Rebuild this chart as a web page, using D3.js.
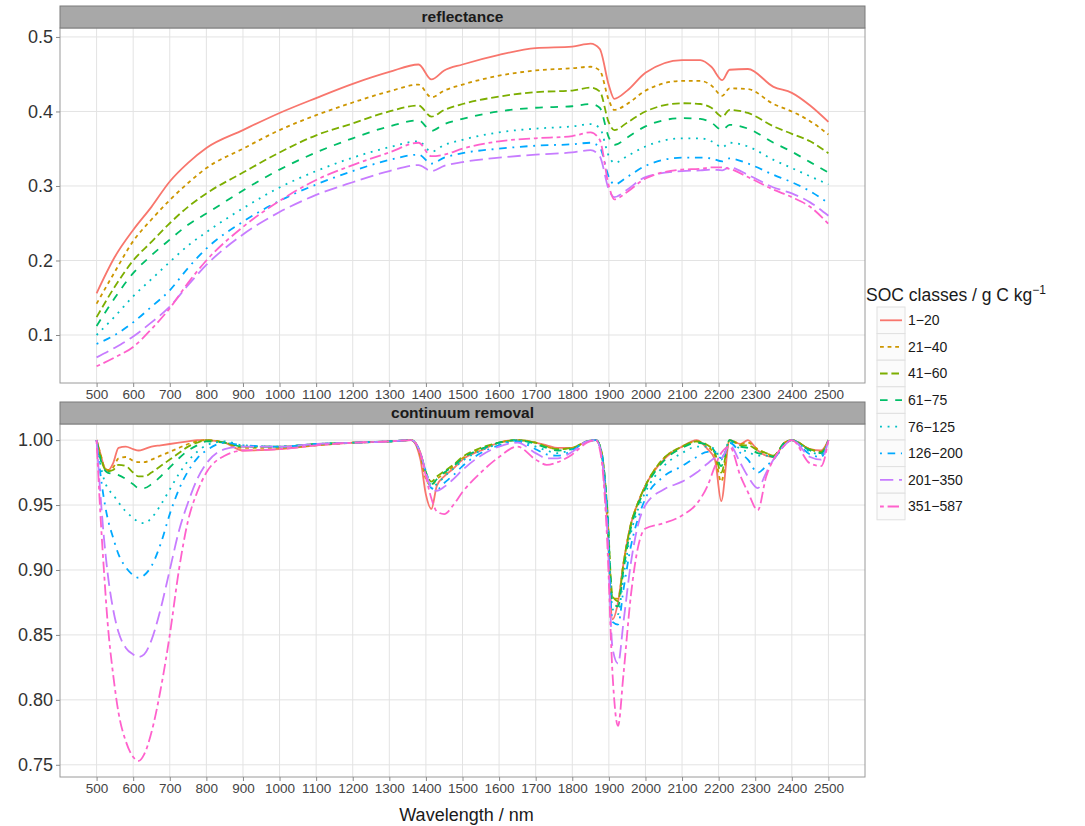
<!DOCTYPE html>
<html>
<head>
<meta charset="utf-8">
<script src="https://cdn.jsdelivr.net/npm/d3@7"></script>
<style>
  body { margin: 0; background: #fff; }
  text { font-family: "Liberation Sans", Arial, sans-serif; }
</style>
</head>
<body>
<svg id="chart"></svg>
<script>
// classes (legend order)
const classes = ['1-20', '21-40', '41-60', '61-75', '76-125', '126-200', '201-350', '351-587'];
const xTicks = d3.range(500, 2501, 100);
const reflTicks = [0.1, 0.2, 0.3, 0.4, 0.5];
const crTicks = [0.75, 0.80, 0.85, 0.90, 0.95, 1.00];

// wavelengths (nm) for the reflectance panel
const wlRefl = [500, 550, 600, 650, 700, 750, 800, 900, 1000, 1100, 1200, 1300, 1380, 1415, 1450, 1500, 1600, 1700, 1800, 1850, 1875, 1900, 1915, 1950, 2000, 2100, 2150, 2180, 2210, 2230, 2280, 2350, 2400, 2450, 2500];
const refl_1_20   = [.156, .205, .241, .272, .306, .331, .351, .375, .398, .418, .437, .453, .463, .443, .455, .463, .476, .485, .487, .491, .484, .435, .417, .428, .452, .469, .469, .460, .442, .456, .457, .433, .425, .408, .386];
const refl_21_40  = [.142, .185, .226, .255, .281, .304, .324, .350, .375, .395, .412, .427, .436, .419, .428, .436, .448, .455, .458, .460, .455, .415, .402, .410, .428, .441, .441, .435, .421, .431, .430, .410, .400, .387, .369];
const refl_41_60  = [.124, .165, .200, .225, .250, .272, .290, .318, .345, .368, .384, .400, .408, .393, .402, .410, .420, .426, .428, .432, .427, .385, .375, .385, .400, .411, .410, .405, .393, .402, .398, .380, .370, .360, .344];
const refl_61_75  = [.112, .150, .183, .207, .228, .248, .263, .294, .322, .345, .364, .380, .388, .374, .383, .390, .400, .405, .407, .410, .405, .365, .355, .365, .380, .391, .390, .385, .375, .382, .377, .358, .346, .332, .318];
const refl_76_125 = [.100, .125, .152, .175, .198, .220, .238, .270, .298, .320, .338, .352, .360, .346, .355, .362, .372, .377, .380, .383, .378, .340, .331, .340, .353, .364, .364, .360, .352, .358, .353, .335, .324, .313, .302];
const refl_126_200 = [.088, .100, .117, .138, .160, .190, .216, .252, .280, .302, .320, .335, .342, .330, .338, .344, .350, .354, .356, .358, .352, .312, .302, .312, .327, .338, .338, .337, .333, .337, .330, .315, .305, .293, .277];
const refl_201_350 = [.070, .083, .098, .117, .138, .167, .194, .235, .265, .288, .305, .320, .328, .320, .327, .332, .338, .342, .345, .348, .340, .295, .285, .295, .312, .320, .321, .322, .321, .325, .315, .298, .290, .278, .260];
const refl_351_587 = [.058, .070, .084, .108, .136, .170, .200, .245, .280, .308, .328, .345, .358, .340, .342, .350, .360, .364, .367, .372, .362, .300, .282, .292, .310, .322, .323, .325, .325, .323, .312, .295, .285, .272, .249];

// wavelengths (nm) for the continuum removal panel
const wlCr = [500, 510, 520, 530, 545, 560, 580, 600, 615, 630, 650, 675, 700, 725, 750, 775, 800, 850, 900, 1000, 1100, 1200, 1300, 1360, 1385, 1400, 1415, 1430, 1450, 1475, 1500, 1550, 1600, 1650, 1700, 1730, 1760, 1800, 1840, 1865, 1880, 1895, 1910, 1925, 1940, 1960, 1980, 2000, 2050, 2100, 2140, 2170, 2190, 2207, 2230, 2260, 2280, 2307, 2330, 2350, 2380, 2400, 2450, 2480, 2500];
const cr_1_20 = [1.000, .990, .980, .976, .982, .994, .995, .993, .992, .993, .995, .996, .997, .998, .999, 1.000, 1.000, .998, .992, .993, .996, .998, .999, 1.000, .985, .958, .947, .965, .972, .978, .985, .992, .998, 1.000, .998, .996, .994, .994, .999, 1.000, .990, .940, .862, .875, .905, .935, .952, .965, .985, .995, 1.000, .993, .985, .953, 1.000, .997, 1.000, .992, .988, .987, .998, 1.000, .993, .992, 1.000];
const cr_21_40 = [1.000, .990, .980, .977, .979, .986, .987, .984, .983, .983, .985, .988, .991, .994, .997, .999, 1.000, .998, .994, .994, .996, .998, .999, 1.000, .988, .970, .965, .970, .974, .980, .986, .993, .998, 1.000, .998, .995, .993, .994, .999, 1.000, .990, .945, .878, .878, .905, .935, .952, .965, .986, .995, .999, .995, .988, .968, 1.000, .997, .998, .993, .990, .988, .998, 1.000, .993, .991, 1.000];
const cr_41_60 = [1.000, .988, .979, .976, .977, .981, .980, .975, .972, .972, .975, .980, .985, .990, .995, .998, 1.000, .998, .995, .995, .997, .998, .999, 1.000, .990, .975, .968, .972, .976, .981, .987, .994, .998, 1.000, .998, .995, .993, .994, .999, 1.000, .991, .950, .880, .876, .905, .935, .952, .965, .986, .995, .999, .996, .990, .975, 1.000, .996, .996, .992, .990, .988, .998, 1.000, .993, .991, 1.000];
const cr_61_75 = [1.000, .986, .978, .975, .974, .973, .970, .966, .963, .963, .966, .972, .979, .986, .992, .996, .999, .998, .995, .995, .997, .998, .999, 1.000, .990, .975, .966, .970, .975, .980, .986, .993, .998, 1.000, .997, .994, .992, .993, .999, 1.000, .991, .950, .875, .872, .900, .932, .950, .963, .984, .994, .998, .996, .991, .980, 1.000, .995, .994, .990, .989, .987, .998, 1.000, .992, .990, 1.000];
const cr_76_125 = [1.000, .982, .970, .963, .958, .952, .945, .940, .937, .936, .940, .950, .962, .974, .984, .991, .996, .999, .996, .995, .997, .998, .999, 1.000, .990, .976, .965, .966, .972, .978, .984, .992, .997, 1.000, .995, .992, .990, .993, .999, 1.000, .990, .948, .870, .866, .895, .928, .947, .960, .980, .990, .995, .995, .993, .985, .999, .993, .991, .988, .988, .986, .997, 1.000, .991, .989, 1.000];
const cr_126_200 = [1.000, .975, .955, .940, .925, .912, .902, .896, .894, .896, .903, .920, .943, .962, .976, .986, .992, .998, .996, .995, .997, .998, .999, 1.000, .990, .975, .963, .962, .967, .973, .980, .990, .996, .999, .993, .989, .988, .992, .999, 1.000, .990, .945, .860, .858, .885, .918, .940, .955, .972, .980, .987, .991, .991, .986, .998, .990, .985, .975, .980, .985, .996, 1.000, .989, .987, 1.000];
const cr_201_350 = [1.000, .960, .925, .898, .870, .852, .840, .835, .833, .835, .846, .870, .900, .930, .952, .970, .982, .993, .995, .995, .997, .998, .999, 1.000, .990, .975, .963, .961, .964, .970, .977, .988, .995, .998, .990, .986, .986, .991, .999, 1.000, .988, .935, .840, .828, .860, .905, .935, .950, .962, .968, .975, .982, .986, .986, .996, .982, .972, .963, .975, .985, .996, 1.000, .987, .985, 1.000];
const cr_351_587 = [1.000, .945, .900, .860, .820, .790, .768, .756, .753, .758, .775, .808, .850, .900, .938, .960, .975, .988, .992, .993, .996, .998, .999, 1.000, .990, .972, .955, .945, .943, .950, .960, .975, .987, .995, .985, .981, .983, .989, .998, 1.000, .985, .925, .820, .780, .820, .880, .918, .932, .936, .942, .951, .965, .980, .990, .995, .972, .960, .946, .972, .985, .996, 1.000, .982, .980, 1.000];

const reflSeries = [refl_1_20, refl_21_40, refl_41_60, refl_61_75, refl_76_125, refl_126_200, refl_201_350, refl_351_587];
const crSeries = [cr_1_20, cr_21_40, cr_41_60, cr_61_75, cr_76_125, cr_126_200, cr_201_350, cr_351_587];

// ggplot-like hue palette and linetypes
const colors = ['#F8766D', '#CD9600', '#7CAE00', '#00BE67', '#00BFC4', '#00A9FF', '#C77CFF', '#FF61CC'];
const lt = ['', '22', '42', '44', '13', '1343', '73', '2262'];
const k = 1.9;
const dash = s => s === '' ? null : s.split('').map(c => parseInt(c, 16) * k).join(',');

//setting up svg container
const w = 1085;
const h = 826;
const svg = d3.select('#chart')
  .attr('width', w)
  .attr('height', h);

const left = 60, right = 865;
const x = d3.scaleLinear().domain([400, 2600]).range([left, right]);

const panels = [
  { title: 'reflectance', top: 28, bottom: 383, domain: [0.0356, 0.512], ticks: reflTicks, fmt: d3.format('.1f'), wl: wlRefl, series: reflSeries },
  { title: 'continuum removal', top: 424, bottom: 777, domain: [0.7406, 1.0124], ticks: crTicks, fmt: d3.format('.2f'), wl: wlCr, series: crSeries }
];

panels.forEach(p => {
  const y = d3.scaleLinear().domain(p.domain).range([p.bottom, p.top]);
  const g = svg.append('g');

  // background + grid
  g.append('rect')
    .attr('x', left).attr('y', p.top)
    .attr('width', right - left).attr('height', p.bottom - p.top)
    .attr('fill', '#fff');
  g.selectAll('.vgrid')
    .data(xTicks)
    .join('line')
    .attr('x1', d => x(d)).attr('x2', d => x(d))
    .attr('y1', p.top).attr('y2', p.bottom)
    .attr('stroke', '#e3e3e3').attr('stroke-width', 1);
  g.selectAll('.hgrid')
    .data(p.ticks)
    .join('line')
    .attr('x1', left).attr('x2', right)
    .attr('y1', d => y(d)).attr('y2', d => y(d))
    .attr('stroke', '#e3e3e3').attr('stroke-width', 1);

  // lines
  const line = d3.line()
    .x((d, i) => x(p.wl[i]))
    .y(d => y(d))
    .curve(d3.curveMonotoneX);
  g.selectAll('.series')
    .data(p.series)
    .join('path')
    .attr('d', line)
    .attr('fill', 'none')
    .attr('stroke', (d, i) => colors[i])
    .attr('stroke-width', 1.8)
    .attr('stroke-dasharray', (d, i) => dash(lt[i]));

  // panel border
  g.append('rect')
    .attr('x', left).attr('y', p.top)
    .attr('width', right - left).attr('height', p.bottom - p.top)
    .attr('fill', 'none').attr('stroke', '#9a9a9a').attr('stroke-width', 1);

  // strip
  g.append('rect')
    .attr('x', left).attr('y', p.top - 22)
    .attr('width', right - left).attr('height', 22)
    .attr('fill', '#a8a8a8').attr('stroke', '#7a7a7a').attr('stroke-width', 1);
  g.append('text')
    .attr('x', (left + right) / 2).attr('y', p.top - 6)
    .attr('text-anchor', 'middle')
    .attr('font-size', 15.5).attr('font-weight', 'bold')
    .attr('fill', '#1a1a1a')
    .text(p.title);

  //setting the axes
  const yAxis = d3.axisLeft(y).tickValues(p.ticks).tickFormat(p.fmt).tickSize(4).tickPadding(3);
  const ya = g.append('g').attr('transform', `translate(${left},0)`).call(yAxis);
  ya.select('.domain').remove();
  ya.selectAll('line').attr('stroke', '#8a8a8a');
  ya.selectAll('text').attr('font-size', 18).attr('fill', '#333');

  const xAxis = d3.axisBottom(x).tickValues(xTicks).tickFormat(d3.format('d')).tickSize(4).tickPadding(2);
  const xa = g.append('g').attr('transform', `translate(0,${p.bottom})`).call(xAxis);
  xa.select('.domain').remove();
  xa.selectAll('line').attr('stroke', '#8a8a8a');
  xa.selectAll('text').attr('font-size', 13.5).attr('fill', '#444');
});

// x axis title
svg.append('text')
  .attr('x', (left + right) / 2 + 4).attr('y', 821)
  .attr('text-anchor', 'middle')
  .attr('font-size', 18).attr('fill', '#1a1a1a')
  .text('Wavelength / nm');

// legend
const legend = svg.append('g').attr('transform', 'translate(866,0)');
const title = legend.append('text').attr('x', 0).attr('y', 301).attr('font-size', 17.5).attr('fill', '#1a1a1a');
title.append('tspan').text('SOC classes / g C kg');
title.append('tspan').attr('dy', -7).attr('font-size', 12).text('\u22121');

const keyH = 26.6;
const items = legend.selectAll('.item')
  .data(classes)
  .join('g')
  .attr('transform', (d, i) => `translate(11,${307 + i * keyH})`);
items.append('rect')
  .attr('width', 28).attr('height', keyH)
  .attr('fill', '#fbfbfb').attr('stroke', '#e0e0e0');
items.append('line')
  .attr('x1', 3).attr('x2', 25)
  .attr('y1', keyH / 2).attr('y2', keyH / 2)
  .attr('stroke', (d, i) => colors[i])
  .attr('stroke-width', 1.8)
  .attr('stroke-dasharray', (d, i) => dash(lt[i]));
items.append('text')
  .attr('x', 31).attr('y', keyH / 2)
  .attr('dy', '0.35em')
  .attr('font-size', 14).attr('fill', '#1a1a1a')
  .text(d => d.replace('-', '\u2212'));
</script>
</body>
</html>
